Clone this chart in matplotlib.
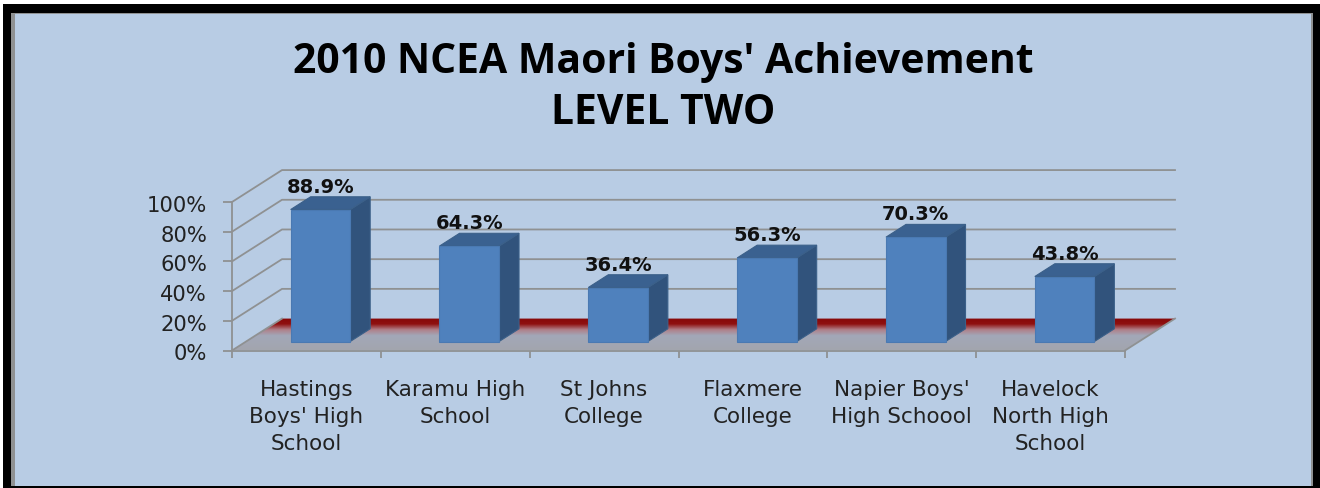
import numpy as np
import matplotlib
matplotlib.use('Agg')
import matplotlib.pyplot as plt
from matplotlib.colors import LinearSegmentedColormap
from matplotlib.patches import Polygon, Rectangle
from matplotlib.transforms import ScaledTranslation

schools = ["Hastings\nBoys' High\nSchool", "Karamu High\nSchool", "St Johns\nCollege",
           "Flaxmere\nCollege", "Napier Boys'\nHigh Schoool", "Havelock\nNorth High\nSchool"]
values = [88.9, 64.3, 36.4, 56.3, 70.3, 43.8]
y_ticks = [0, 20, 40, 60, 80, 100]

W, H = 1320, 489
BG = '#b8cce4'
GRID = '#8f9192'

# how far the back wall sits from the front, in data units
DX = 0.336
DY = 21.5
BAR_W = 0.4
BAR_D0 = 0.28
BAR_D1 = 0.68


def proj(x, y, d):
    return (x + d * DX, y + d * DY)


fig = plt.figure(figsize=(W / 100, H / 100), dpi=100, facecolor='white')

# outer frame of the screenshot
bg = fig.add_axes([0, 0, 1, 1])
bg.set_xlim(0, W)
bg.set_ylim(H, 0)
bg.axis('off')
bg.add_patch(Rectangle((3, 5), W - 3, H - 5, fc='black', ec='none'))
bg.add_patch(Rectangle((11, 14), 1302, 473, fc=GRID, ec='none'))
bg.add_patch(Rectangle((15, 15), 1296, 472, fc=BG, ec='none'))

# plot area = front plane of the 3D box
left, right, top, bottom = 232, 1125, 203, 351.5
ax = fig.add_axes([left / W, 1 - bottom / H, (right - left) / W, (bottom - top) / H])
ax.patch.set_visible(False)
n = len(values)

# floor, red at the back fading to grey at the front
cmap = LinearSegmentedColormap.from_list('floor', [(0, '#870808'), (0.18, '#8f1010'), (0.36, '#b07f88'),
                                                   (0.55, '#a2a8b8'), (1, '#a3a5ae')])
floor = Polygon([proj(0, 0, 0), proj(n, 0, 0), proj(n, 0, 1), proj(0, 0, 1)], closed=True,
                fc='none', ec='none', transform=ax.transData)
ax.add_patch(floor)
grad = np.linspace(0, 1, 100).reshape(-1, 1)
im = ax.imshow(grad, cmap=cmap, extent=(0, n + DX, 0, DY), origin='upper', aspect='auto', zorder=1)
im.set_clip_box(fig.bbox)
im.set_clip_path(floor)
ax.set_xlim(0, n)
ax.set_ylim(0, 100)

# walls
for v in y_ticks:
    xs = [0, DX, n + DX]
    ys = [v, v + DY, v + DY]
    if v == 0:
        xs, ys = [0, DX], [0, DY]
    ax.plot(xs, ys, color=GRID, lw=1.3, clip_on=False, zorder=2)
ax.plot([n, n + DX], [0, DY], color=GRID, lw=1.3, clip_on=False, zorder=2)

# bars
for i, val in enumerate(values):
    x0 = i + 0.5 - BAR_W / 2
    x1 = i + 0.5 + BAR_W / 2
    front = [proj(x0, 0, BAR_D0), proj(x1, 0, BAR_D0), proj(x1, val, BAR_D0), proj(x0, val, BAR_D0)]
    side = [proj(x1, 0, BAR_D0), proj(x1, 0, BAR_D1), proj(x1, val, BAR_D1), proj(x1, val, BAR_D0)]
    lid = [proj(x0, val, BAR_D0), proj(x1, val, BAR_D0), proj(x1, val, BAR_D1), proj(x0, val, BAR_D1)]
    ax.add_patch(Polygon(side, fc='#31537c', ec='#3b6089', lw=0.8, clip_on=False, zorder=3))
    ax.add_patch(Polygon(lid, fc='#3a6190', ec='#3b6089', lw=0.8, clip_on=False, zorder=3))
    ax.add_patch(Polygon(front, fc='#4f81bd', ec='#4a79b2', lw=0.8, clip_on=False, zorder=4))
    tx = proj(i + 0.5, val, BAR_D0)[0]
    ty = proj(i + 0.5, val, BAR_D1)[1]
    ax.annotate('%.1f%%' % val, (tx, ty), xytext=(0, 7.5), textcoords='offset points', ha='center', va='center',
                fontsize=14, fontweight='bold', color='#111111', family='DejaVu Sans', zorder=5,
                annotation_clip=False)

# axes
for s in ['top', 'right']:
    ax.spines[s].set_visible(False)
for s in ['left', 'bottom']:
    ax.spines[s].set_color(GRID)
    ax.spines[s].set_linewidth(1.3)
    ax.spines[s].set_zorder(2.5)

ax.set_yticks(y_ticks)
ax.set_yticklabels(['%d%%' % v for v in y_ticks], family='DejaVu Sans', fontsize=15.2, color='#222222')
ax.tick_params(axis='y', length=6.5, width=1.3, color=GRID, pad=11.5)
nudge = ScaledTranslation(0, -0.01, fig.dpi_scale_trans)
for lab in ax.get_yticklabels():
    lab.set_transform(lab.get_transform() + nudge)
ax.set_xticks(np.arange(n + 1))
ax.set_xticklabels([])
ax.tick_params(axis='x', which='major', length=5, width=1.3, color=GRID)
ax.set_xticks(np.arange(n) + 0.5, schools, minor=True, family='DejaVu Sans', fontsize=15.5,
              color='#222222', linespacing=1.43)
ax.tick_params(axis='x', which='minor', length=0, pad=20.5)

bg.text(663, 88, "2010 NCEA Maori Boys' Achievement\nLEVEL TWO", ha='center', va='center', fontsize=29.4,
        fontweight='bold', family='Open Sans', color='black', linespacing=1.33)

fig.savefig('out.png', dpi=100)
